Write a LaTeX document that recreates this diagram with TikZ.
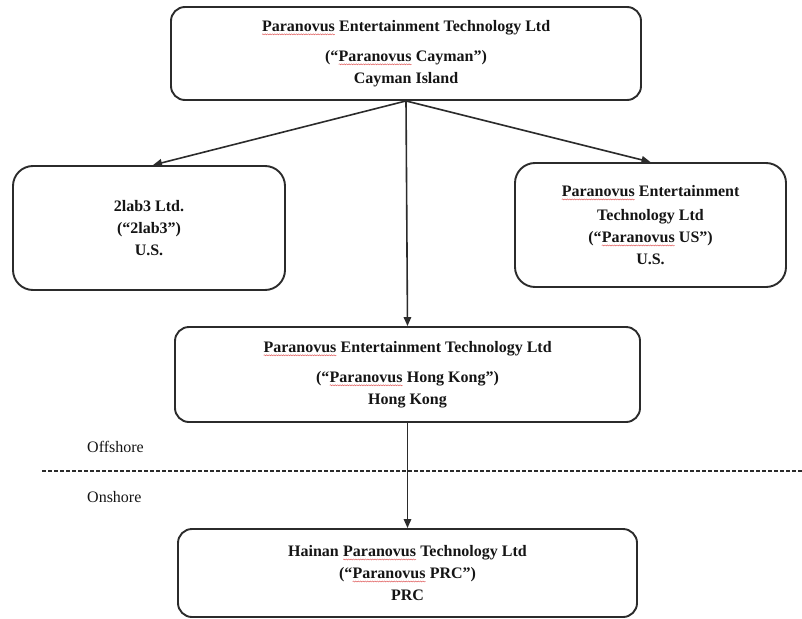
\documentclass[tikz,border=0pt]{standalone}
\usepackage{fontspec}
\setmainfont{Liberation Serif}
\usetikzlibrary{arrows.meta,decorations.pathmorphing}
\definecolor{boxline}{HTML}{2B2B2B}
\definecolor{txt}{HTML}{151515}
\definecolor{squig}{HTML}{E06060}
\newcommand{\spellmark}[1]{\tikz[baseline=(w.base)]{\node[draw=none,fill=none,inner sep=0pt,outer sep=0pt,minimum width=0pt,minimum height=0pt,rounded corners=0pt](w){#1};\draw[squig,line width=0.5pt,rounded corners=0pt,decorate,decoration={snake,amplitude=0.5pt,segment length=2.4pt}]([yshift=-3pt]w.base west) -- ([yshift=-3pt]w.base east);}}
\tikzset{
  entity/.style={draw=boxline,line width=1.9pt,rounded corners=14pt,align=center,text=txt,
    font=\fontsize{16}{22}\selectfont\bfseries,inner sep=0pt},
  smallentity/.style={entity,rounded corners=20pt},
  link/.style={draw=boxline,line width=1.6pt,-{Triangle[length=9pt,width=7.5pt]}},
  zone/.style={text=txt,font=\fontsize{16}{20}\selectfont,anchor=west,inner sep=0pt},
  divider/.style={draw=boxline,line width=1.6pt,dash pattern=on 4pt off 2pt}
}
\begin{document}
\begin{tikzpicture}[x=1pt,y=-1pt]
\useasboundingbox (0,0) rectangle (802,618);
\node[entity,minimum width=470pt,minimum height=93pt] (top) at (406,53.5)
  {\spellmark{Paranovus} Entertainment Technology Ltd\\[8pt] (“\spellmark{Paranovus} Cayman”)\\ Cayman Island};
\node[smallentity,minimum width=272pt,minimum height=124pt] (lab) at (149,228)
  {2lab3 Ltd.\\ (“2lab3”)\\ U.S.};
\node[smallentity,minimum width=271pt,minimum height=124pt] (us) at (650.5,225)
  {\spellmark{Paranovus} Entertainment\\[2pt] Technology Ltd\\ (“\spellmark{Paranovus} US”)\\ U.S.};
\node[entity,minimum width=465pt,minimum height=95pt] (hk) at (407.5,374.5)
  {\spellmark{Paranovus} Entertainment Technology Ltd\\[8pt] (“\spellmark{Paranovus} Hong Kong”)\\ Hong Kong};
\node[entity,minimum width=459pt,minimum height=88pt] (prc) at (407.5,573)
  {Hainan \spellmark{Paranovus} Technology Ltd\\ (“\spellmark{Paranovus} PRC”)\\ PRC};
\coordinate (dl) at (42,471);
\coordinate (dr) at (802,471);
\draw[divider] (dl) -- (dr);
\node[zone] (off) at (87,447) {Offshore};
\node[zone] (on) at (87,497) {Onshore};
\draw[link] (top.south) -- ([xshift=4pt]lab.north);
\draw[link] (top.south) -- (us.north);
\draw[link] (top.south) -- (hk.north);
\draw[link] (hk.south) -- (prc.north);
\end{tikzpicture}
\end{document}
